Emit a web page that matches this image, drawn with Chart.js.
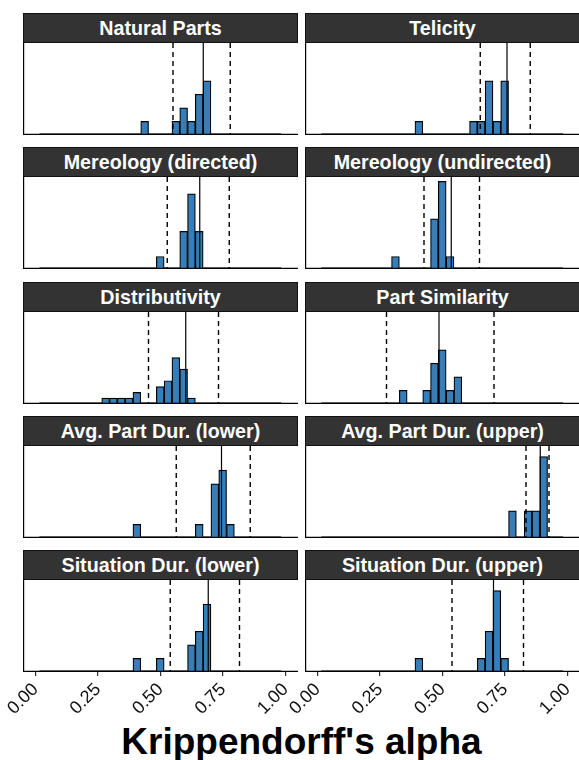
<!DOCTYPE html>
<html lang="en">
<head>
<meta charset="UTF-8">
<title>Krippendorff's alpha</title>
<script src="https://cdn.jsdelivr.net/npm/chart.js"></script>
<style>
  html, body { margin: 0; padding: 0; background: #fff; overflow: hidden; }
  body { width: 579px; height: 760px; position: relative; font-family: "Liberation Sans", Arial, sans-serif; }
  .strip { position: absolute; height: 30px; background: #333; border: 1px solid #111; box-sizing: border-box;
           color: #fff; font-weight: bold; font-size: 19.7px; text-align: center; line-height: 28px; white-space: nowrap; }
  .panel { position: absolute; }
  #xtitle { position: absolute; left: 23px; width: 557px; top: 722px; text-align: center;
            font-weight: bold; font-size: 37px; line-height: 40px; color: #000; }
</style>
</head>
<body>
<div id="xtitle">Krippendorff's alpha</div>
<script>
// shared histogram bins (31 bins)
const binStart = 0.0154;
const binWidth = 0.0312;
const xTicks = [0, 0.25, 0.5, 0.75, 1];

const panelTitles = [
  'Natural Parts', 'Telicity',
  'Mereology (directed)', 'Mereology (undirected)',
  'Distributivity', 'Part Similarity',
  'Avg. Part Dur. (lower)', 'Avg. Part Dur. (upper)',
  'Situation Dur. (lower)', 'Situation Dur. (upper)'
];

// counts per bin
const naturalParts   = [0,0,0,0,0,0,0,0,0,0, 0,0,0,1,0,0,0,1,2,1, 3,4,0,0,0,0,0,0,0,0,0];
const telicity       = [0,0,0,0,0,0,0,0,0,0, 0,0,1,0,0,0,0,0,0,1, 1,4,1,4,0,0,0,0,0,0,0];
const mereologyDir   = [0,0,0,0,0,0,0,0,0,0, 0,0,0,0,0,1,0,0,3,6, 3,0,0,0,0,0,0,0,0,0,0];
const mereologyUndir = [0,0,0,0,0,0,0,0,0,1, 0,0,0,0,4,7,1,0,0,0, 0,0,0,0,0,0,0,0,0,0,0];
const distributivity = [0,0,0,0,0,0,0,0,1,1, 1,1,2,0,0,3,4,8,6,1, 0,0,0,0,0,0,0,0,0,0,0];
const partSimilarity = [0,0,0,0,0,0,0,0,0,0, 1,0,0,1,3,4,1,2,0,0, 0,0,0,0,0,0,0,0,0,0,0];
const partDurLower   = [0,0,0,0,0,0,0,0,0,0, 0,0,1,0,0,0,0,0,0,0, 1,0,4,5,1,0,0,0,0,0,0];
const partDurUpper   = [0,0,0,0,0,0,0,0,0,0, 0,0,0,0,0,0,0,0,0,0, 0,0,0,0,2,0,2,2,6,0,0];
const sitDurLower    = [0,0,0,0,0,0,0,0,0,0, 0,0,1,0,0,1,0,0,0,2, 3,5,0,0,0,0,0,0,0,0,0];
const sitDurUpper    = [0,0,0,0,0,0,0,0,0,0, 0,0,1,0,0,0,0,0,0,0, 1,3,6,1,0,0,0,0,0,0,0];

// reference lines: solid centre, dashed lower/upper
const solidLine = [0.671, 0.758, 0.657, 0.535, 0.601, 0.486, 0.744, 0.891, 0.691, 0.704];
const dashLow   = [0.550, 0.651, 0.527, 0.426, 0.452, 0.276, 0.563, 0.834, 0.539, 0.538];
const dashHigh  = [0.779, 0.851, 0.775, 0.648, 0.732, 0.706, 0.859, 0.926, 0.816, 0.824];

const allCounts = [naturalParts, telicity, mereologyDir, mereologyUndir, distributivity,
                   partSimilarity, partDurLower, partDurUpper, sitDurLower, sitDurUpper];

const binCenters = naturalParts.map((_, k) => binStart + binWidth * (k + 0.5));

function toDensity(counts) {
  const n = counts.reduce((a, b) => a + b, 0);
  return counts.map(c => c / (n * binWidth));
}
const densities = allCounts.map(toDensity);
const yMax = 1.05 * Math.max(...densities.map(d => Math.max(...d)));

// layout
const colLeft = [23, 305];
const stripTop = [13, 147, 282, 416, 550];
const panelW = 275, stripH = 30, plotH = 92, axisH = 50, padL = 22;

const refLines = {
  id: 'refLines',
  beforeDatasetsDraw(chart) {
    // zero-count bins along the baseline
    const ctx = chart.ctx, a = chart.chartArea, x = chart.scales.x;
    ctx.save();
    ctx.strokeStyle = '#777';
    ctx.lineWidth = 2;
    ctx.beginPath();
    ctx.moveTo(x.getPixelForValue(binStart), a.bottom - 1);
    ctx.lineTo(x.getPixelForValue(binStart + binWidth * binCenters.length), a.bottom - 1);
    ctx.stroke();
    ctx.restore();
  },
  afterDatasetsDraw(chart, args, opts) {
    const ctx = chart.ctx, a = chart.chartArea, x = chart.scales.x;
    ctx.save();
    ctx.strokeStyle = '#000';
    ctx.lineWidth = 1.4;
    ctx.setLineDash([5, 4]);
    [opts.lo, opts.hi].forEach(v => {
      const px = x.getPixelForValue(v);
      ctx.beginPath(); ctx.moveTo(px, a.top); ctx.lineTo(px, a.bottom); ctx.stroke();
    });
    ctx.setLineDash([]);
    ctx.lineWidth = 1.2;
    const pm = x.getPixelForValue(opts.mid);
    ctx.beginPath(); ctx.moveTo(pm, a.top); ctx.lineTo(pm, a.bottom); ctx.stroke();
    // axis lines
    ctx.lineWidth = 1.2;
    ctx.beginPath();
    ctx.moveTo(a.left + 0.6, a.top);
    ctx.lineTo(a.left + 0.6, a.bottom - 0.6);
    ctx.lineTo(a.right, a.bottom - 0.6);
    ctx.stroke();
    ctx.restore();
  }
};

allCounts.forEach((counts, i) => {
  const row = Math.floor(i / 2), col = i % 2;
  const bottomRow = row === 4;

  const strip = document.createElement('div');
  strip.className = 'strip';
  strip.textContent = panelTitles[i];
  strip.style.left = colLeft[col] + 'px';
  strip.style.top = stripTop[row] + 'px';
  strip.style.width = panelW + 'px';
  document.body.appendChild(strip);

  const extra = bottomRow ? padL : 0;
  const wrap = document.createElement('div');
  wrap.className = 'panel';
  wrap.style.left = (colLeft[col] - extra) + 'px';
  wrap.style.top = (stripTop[row] + stripH) + 'px';
  wrap.style.width = (panelW + extra) + 'px';
  wrap.style.height = (plotH + (bottomRow ? axisH : 0)) + 'px';
  const canvas = document.createElement('canvas');
  wrap.appendChild(canvas);
  document.body.appendChild(wrap);

  new Chart(canvas, {
    type: 'bar',
    data: {
      datasets: [{
        data: binCenters.map((x, k) => ({ x: x, y: densities[i][k] })),
        backgroundColor: '#377EB8',
        borderColor: '#000',
        borderWidth: 1.2,
        barPercentage: 1,
        categoryPercentage: 1
      }]
    },
    options: {
      responsive: true,
      maintainAspectRatio: false,
      animation: false,
      layout: { padding: { left: extra, right: 0, top: 0, bottom: 0 } },
      plugins: {
        legend: { display: false },
        tooltip: { enabled: false },
        refLines: { lo: dashLow[i], mid: solidLine[i], hi: dashHigh[i] }
      },
      scales: {
        x: {
          type: 'linear',
          offset: false,
          min: -0.05,
          max: 1.05,
          display: bottomRow,
          afterBuildTicks: s => { s.ticks = xTicks.map(v => ({ value: v })); },
          afterFit: s => {
            if (bottomRow) { s.height = axisH; s.paddingLeft = 0; s.paddingRight = 0; }
          },
          grid: { display: true, offset: false, drawOnChartArea: false, drawTicks: true, tickLength: 4, color: '#333', lineWidth: 1.2 },
          border: { display: false },
          ticks: {
            autoSkip: false,
            minRotation: 45,
            maxRotation: 45,
            padding: 3,
            color: '#111',
            font: { family: '"Liberation Sans", Arial, sans-serif', size: 18 },
            callback: v => Number(v).toFixed(2)
          }
        },
        y: { display: false, min: 0, max: yMax }
      }
    },
    plugins: [refLines]
  });
});
</script>
</body>
</html>
